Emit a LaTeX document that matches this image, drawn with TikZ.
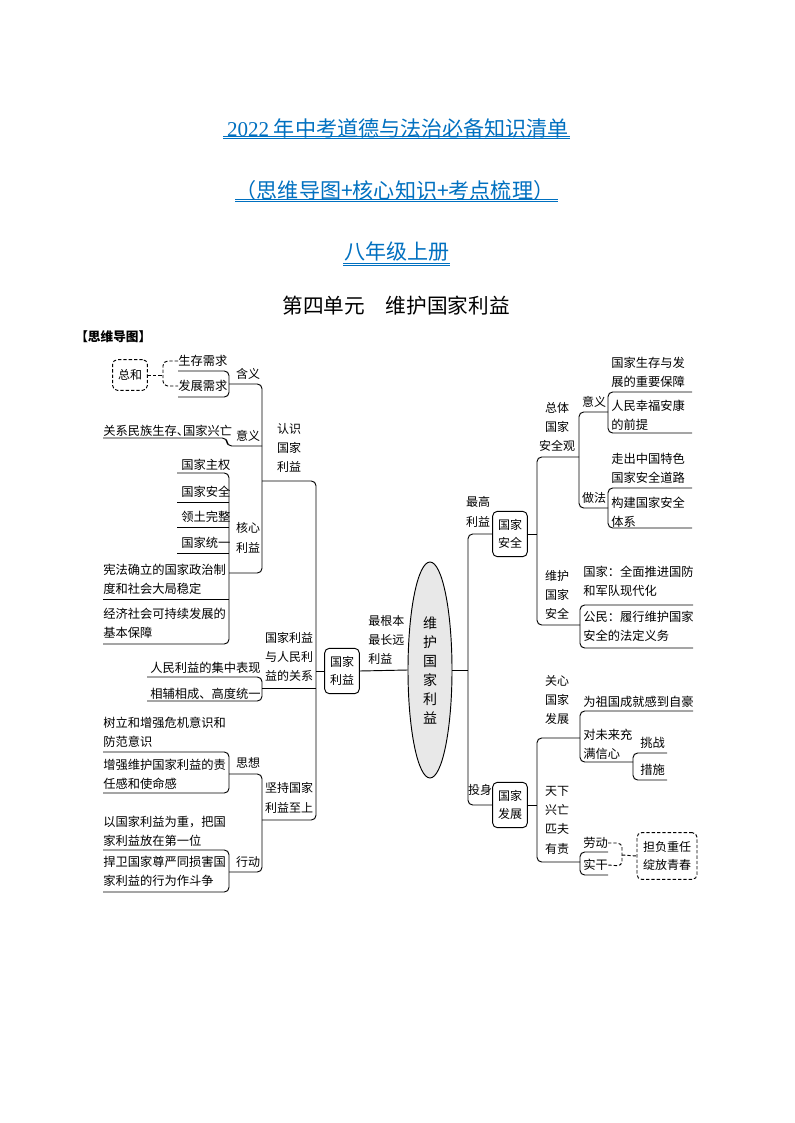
\documentclass[tikz,border=0pt]{standalone}
\usepackage{fontspec}
\setmainfont{Noto Sans CJK SC}
\newfontfamily\tnr{Liberation Serif}
\usetikzlibrary{shapes.geometric}
\definecolor{titleblue}{RGB}{0,112,192}
\newcommand{\halfdun}{\makebox[0.5em][l]{、}}
\tikzset{
  txt/.style={inner sep=0pt, font=\fontsize{9.2}{14.5}\selectfont, align=left, anchor=west},
  lab/.style={inner sep=0pt, font=\fontsize{9}{14.5}\selectfont, align=center},
  kbox/.style={draw, line width=0.7pt, rounded corners=3.5pt, inner sep=0pt, minimum width=26pt,
    minimum height=34pt, align=center, font=\fontsize{9}{14}\selectfont},
  dbox/.style={kbox, dash pattern=on 2.5pt off 1.5pt},
  wire/.style={line width=0.7pt, rounded corners=3.5pt},
  dwire/.style={wire, dash pattern=on 2.5pt off 1.5pt},
  ttl/.style={font=\fontsize{15.8}{18}\selectfont, text=titleblue, inner sep=0pt},
  uline/.style={titleblue, line width=0.5pt},
}
\begin{document}
\begin{tikzpicture}[x=0.75pt,y=-0.75pt]
\fill[white] (0,0) rectangle (794,1123);

% --- Titles ---
\node[ttl] (t1) at (398,128) {{\tnr 2022} 年中考道德与法治必备知识清单};
\draw[uline] (223,136) -- (570,136) (223,138.5) -- (570,138.5);
\node[ttl] (t2) at (395,190) {（思维导图+核心知识+考点梳理）};
\draw[uline] (235,199) -- (558,199) (235,201.5) -- (558,201.5);
\node[ttl] (t3) at (397,252) {八年级上册};
\draw[uline] (343,263) -- (450,263) (343,265.5) -- (450,265.5);
\node[font=\fontsize{15.5}{18}\selectfont, inner sep=0pt] (t4) at (396,306) {第四单元　维护国家利益};
\node[anchor=west, inner sep=0pt, font=\fontsize{9.5}{12}\selectfont\bfseries] (head) at (75,337) {【思维导图】};

% --- 认识国家利益: 含义 ---
\node[dbox, minimum height=23pt] (zonghe) at (130,375) {总和};
\node[txt] (scxq) at (178,361) {生存需求};
\node[txt] (fzxq) at (178,386) {发展需求};
\draw[dwire] (zonghe.east) -- (163,375);
\draw[dwire] (scxq.west) -- (163,361) -- (163,386) -- (fzxq.west);
\draw[wire] (178,371) -- (229,371) -- (229,397) -- (178,397);
\node[lab] (hanyi) at (248,374) {含义};

% --- 意义 ---
\node[txt] (guanxi) at (103,431) {关系民族生存\halfdun 国家兴亡};
\draw[wire] (103,438) -- (227,438) -- (227,446) -- (262,446);
\node[lab] (yiyi) at (248,436) {意义};

% --- 核心利益 ---
\node[txt] (zhuquan) at (181,465) {国家主权};
\node[txt] (anquan) at (181,492) {国家安全};
\node[txt] (wanzheng) at (181,517) {领土完整};
\node[txt] (tongyi) at (181,543) {国家统一};
\node[txt] (xianfa) at (103,579) {宪法确立的国家政治制\\度和社会大局稳定};
\node[txt] (jingji) at (103,623) {经济社会可持续发展的\\基本保障};
\draw[wire] (177,473) -- (229,473) -- (229,644) -- (103,644);
\draw[wire] (177,502) -- (229,502) (177,527) -- (229,527) (177,553) -- (229,553) (103,599) -- (229,599);
\node[lab] (hexin) at (248,538) {核心\\利益};

% bracket of 认识国家利益
\draw[wire] (229,384) -- (262,384) -- (262,573) -- (229,573);
\node[lab] (renshi) at (289,448) {认识\\国家\\利益};

% --- 国家利益与人民利益的关系 ---
\node[txt] (jizhong) at (150,668) {人民利益的集中表现};
\node[txt] (xiangfu) at (150,694) {相辅相成、高度统一};
\draw[wire] (147,677) -- (262,677) -- (262,701) -- (147,701);
\draw[wire] (262,688) -- (316,688);
\node[lab] (guanxi2) at (289,657) {国家利益\\与人民利\\益的关系};

% --- 坚持国家利益至上 ---
\node[txt] (shuli) at (103,732) {树立和增强危机意识和\\防范意识};
\node[txt] (zengqiang) at (103,774) {增强维护国家利益的责\\任感和使命感};
\draw[wire] (103,752) -- (229,752) -- (229,793) -- (103,793);
\node[lab] (sixiang) at (248,763) {思想};
\node[txt] (weizhong) at (103,831) {以国家利益为重，把国\\家利益放在第一位};
\node[txt] (hanwei) at (103,871) {捍卫国家尊严同损害国\\家利益的行为作斗争};
\draw[wire] (103,850) -- (229,850) -- (229,892) -- (103,892);
\node[lab] (xingdong) at (248,862) {行动};
\draw[wire] (229,774) -- (262,774) -- (262,872) -- (229,872);
\node[lab] (jianchi) at (289,798) {坚持国家\\利益至上};

% main left bracket
\draw[wire] (262,481) -- (316,481) -- (316,820) -- (262,820);

% --- Centre ---
\node[kbox] (gjly) at (342,671) {国家\\利益};
\draw[wire] (316,671) -- (gjly.west);
\node[ellipse, draw, line width=0.7pt, fill=gray!18, inner sep=0pt, minimum width=33pt,
  minimum height=162pt, align=center, font=\fontsize{10.5}{14.25}\selectfont] (root) at (430,670)
  {维\\护\\国\\家\\利\\益};
\draw[wire] (gjly.east) -- (root.west);
\node[lab, anchor=west, align=left] (genben) at (368,640) {最根本\\最长远\\利益};

% --- Right side ---
\node[kbox] (gjaq) at (510,534) {国家\\安全};
\node[kbox] (gjfz) at (510,805) {国家\\发展};
\draw[wire] (root.east) -- (468,670);
\draw[wire] (gjaq.west) -- (468,534) -- (468,805) -- (gjfz.west);
\node[lab] (zuigao) at (478,512) {最高\\利益};
\node[lab] (toushen) at (480,790) {投身};

% --- 国家安全 ---
\draw[wire] (gjaq.east) -- (537,534);
\draw[wire] (579,457) -- (537,457) -- (537,625) -- (580,625);
\node[lab] (zongti) at (557,427) {总体\\国家\\安全观};
\draw[wire] (608,412) -- (579,412) -- (579,508) -- (608,508);
\node[lab] (yiyi2) at (594,402) {意义};
\node[lab] (zuofa) at (594,498) {做法};
\node[txt] (baozhang) at (611,372) {国家生存与发\\展的重要保障};
\node[txt] (xingfu) at (611,415) {人民幸福安康\\的前提};
\draw[wire] (692,392) -- (608,392) -- (608,433) -- (692,433);
\node[txt] (daolu) at (611,468) {走出中国特色\\国家安全道路};
\node[txt] (tixi) at (611,512) {构建国家安全\\体系};
\draw[wire] (692,488) -- (608,488) -- (608,528) -- (692,528);
\node[lab] (weihu) at (557,595) {维护\\国家\\安全};
\node[txt] (guofang) at (583,581) {国家：全面推进国防\\和军队现代化};
\node[txt] (gongmin) at (583,626) {公民：履行维护国家\\安全的法定义务};
\draw[wire] (693,605) -- (580,605) -- (580,648) -- (693,648);

% --- 国家发展 ---
\draw[wire] (gjfz.east) -- (537,805);
\draw[wire] (580,738) -- (537,738) -- (537,862) -- (580,862);
\node[lab] (guanxin) at (557,700) {关心\\国家\\发展};
\node[txt] (zihao) at (583,702) {为祖国成就感到自豪};
\node[txt] (xinxin) at (583,744) {对未来充\\满信心};
\draw[wire] (693,711) -- (580,711) -- (580,762) -- (633,762);
\node[txt] (tiaozhan) at (640,743) {挑战};
\node[txt] (cuoshi) at (640,770) {措施};
\draw[wire] (667,753) -- (633,753) -- (633,780) -- (667,780);
\node[lab] (tianxia) at (557,820) {天下\\兴亡\\匹夫\\有责};
\node[txt] (laodong) at (583,843) {劳动};
\node[txt] (shigan) at (583,865) {实干};
\draw[wire] (608,852) -- (580,852) -- (580,875) -- (608,875);
\node[dbox, minimum width=45pt, minimum height=35pt, align=center] (danfu) at (667,856) {担负重任\\绽放青春};
\draw[dwire] (laodong.east) -- (622,843) -- (622,866) -- (shigan.east);
\draw[dwire] (622,855) -- (danfu.west);

\end{tikzpicture}
\end{document}
